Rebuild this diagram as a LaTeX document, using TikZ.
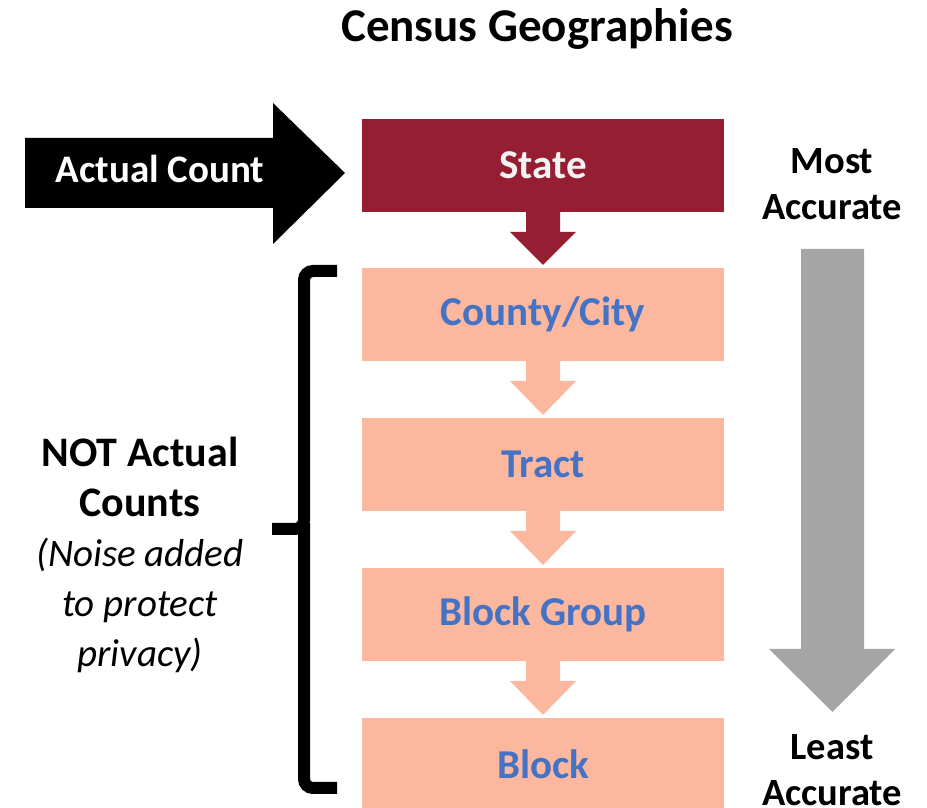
\documentclass[tikz,border=0pt]{standalone}
\usepackage{fontspec}
\setmainfont{Carlito}
\usetikzlibrary{positioning,calc}
\definecolor{statered}{RGB}{150,30,50}
\definecolor{geosalmon}{RGB}{252,183,159}
\definecolor{geoblue}{RGB}{68,114,196}
\definecolor{accgray}{RGB}{165,165,165}
\tikzset{
  geobox/.style={minimum width=362pt, minimum height=93pt, inner sep=0pt, outer sep=0pt,
    font=\fontsize{41}{46}\selectfont\bfseries},
  lowbox/.style={geobox, fill=geosalmon, text=geoblue},
  sidelabel/.style={align=center, font=\fontsize{38.5}{46}\selectfont\bfseries}
}
\newcommand{\flowarrow}[3]{%
  \fill[#3] ($(#1.south)+(-17,0)$) -- ($(#1.south)+(-17,-20)$) -- ($(#1.south)+(-33,-20)$)
    -- ($(#2.north)+(0,3)$) -- ($(#1.south)+(33,-20)$) -- ($(#1.south)+(17,-20)$)
    -- ($(#1.south)+(17,0)$) -- cycle;}
\begin{document}
\begin{tikzpicture}[x=1pt, y=1pt]
  \useasboundingbox (0,0) rectangle (927,808);
  \node[font=\fontsize{47}{52}\selectfont\bfseries] (title) at (537,779) {Census Geographies};
  \node[geobox, fill=statered, text=white!95!black] (state) at (543,642.5) {State};
  \node[lowbox, below=56pt of state] (county) {County/City};
  \node[lowbox, below=57pt of county] (tract) {Tract};
  \node[lowbox, below=57pt of tract] (group) {Block Group};
  \node[lowbox, below=57pt of group] (block) {Block};
  \flowarrow{state}{county}{statered}
  \flowarrow{county}{tract}{geosalmon}
  \flowarrow{tract}{group}{geosalmon}
  \flowarrow{group}{block}{geosalmon}
  \fill[black] (25,670) -- (273,670) -- (273,705) -- (345,635) -- (273,564)
    -- (273,600) -- (25,600) -- cycle;
  \node[font=\fontsize{39}{44}\selectfont\bfseries, text=white] (actual) at (160,639) {Actual Count};
  \fill[accgray] (801,559) -- (864,559) -- (864,159) -- (895,159) -- (832.5,96)
    -- (769,159) -- (801,159) -- cycle;
  \node[sidelabel] (most) at (832,624) {Most\\Accurate};
  \node[sidelabel] (least) at (832,38) {Least\\Accurate};
  \draw[line width=12pt, rounded corners=9pt] (337,537) -- (304,537) -- (304,279) -- (272,279);
  \draw[line width=12pt, rounded corners=9pt] (304,285) -- (304,20) -- (337,20);
  \node[align=center, font=\fontsize{39}{50}\selectfont] (noise) at (140,253)
    {\fontsize{42}{50}\selectfont\bfseries NOT Actual\\ \fontsize{42}{50}\selectfont\bfseries Counts\\
     \itshape(Noise added\\ \itshape to protect\\ \itshape privacy)};
\end{tikzpicture}
\end{document}
